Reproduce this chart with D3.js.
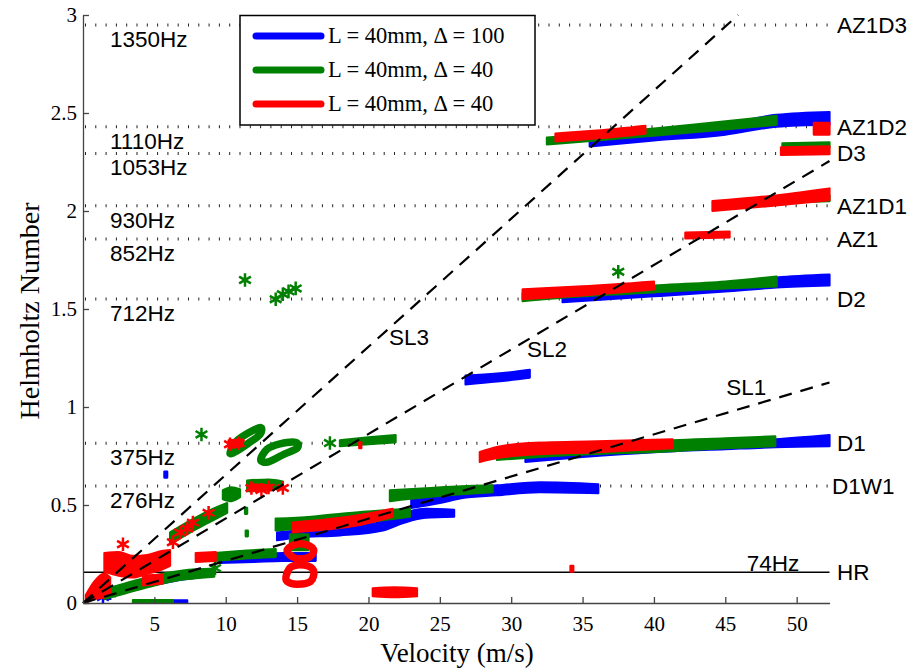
<!DOCTYPE html>
<html><head><meta charset="utf-8">
<script src="https://cdn.jsdelivr.net/npm/d3@7"></script>
<style>body{margin:0;background:#fff}</style>
</head><body>
<svg id="chart" width="912" height="671"></svg>
<script>
// ---------- data ----------
const seriesNames = ["L = 40mm, \u0394 = 100", "L = 40mm, \u0394 = 40", "L = 40mm, \u0394 = 40"];
const seriesColors = ["#0000ff", "#008000", "#ff0000"];
const xTicks = [5,10,15,20,25,30,35,40,45,50];
const yTicks = [0,0.5,1,1.5,2,2.5,3];

// mode levels (Helmholtz number) with names and frequencies
const levelNames = ["AZ1D3","AZ1D2","D3","AZ1D1","AZ1","D2","D1","D1W1"];
const levelFreq  = ["1350Hz","1110Hz","1053Hz","930Hz","852Hz","712Hz","375Hz","276Hz"];
const levelH     = [2.949, 2.430, 2.294, 2.027, 1.857, 1.551, 0.815, 0.597];
const hrName = "HR", hrFreq = "74Hz", hrH = 0.157;

// Strouhal lines: [velocity, Helmholtz] end points
const slNames = ["SL1","SL2","SL3"];
const slEnds  = [[[0,0],[52.3,1.125]], [[0,0],[52.3,2.255]], [[0,0],[45.9,3.0]]];

// bands: each point [velocity, H low, H high]
const blueBands = [
  [[35.5,2.33,2.37],[40,2.36,2.41],[45,2.39,2.445],[48.6,2.43,2.49],[52.3,2.44,2.505]],
  [[33.6,1.535,1.565],[40,1.565,1.6],[45,1.59,1.63],[48.6,1.61,1.66],[52.3,1.62,1.675]],
  [[26.8,1.115,1.16],[29,1.13,1.17],[31.3,1.15,1.19]],
  [[31,0.72,0.755],[35,0.745,0.78],[40,0.77,0.8],[45,0.785,0.82],[48.5,0.795,0.835],[52.3,0.8,0.857]],
  [[23,0.485,0.53],[25,0.51,0.555],[26.5,0.535,0.59],[29,0.55,0.6],[32,0.565,0.615],[36.1,0.56,0.605]],
  [[13.6,0.32,0.36],[15,0.335,0.37],[18,0.345,0.385],[21,0.37,0.415],[22.5,0.41,0.46],[24,0.435,0.48],[26,0.44,0.475]],
  [[9.5,0.205,0.235],[12,0.21,0.245],[14,0.215,0.255],[16.3,0.215,0.255]],
  [[1.7,0.04,0.065],[3.5,0.07,0.1],[5.5,0.1,0.13],[7,0.12,0.15],[8.5,0.135,0.165]],
  [[6.3,0,0.013],[7.3,0,0.013]],
  [[5.7,0.64,0.67],[5.9,0.64,0.67]]
];
const greenBands = [
  [[32.5,2.34,2.375],[36,2.36,2.395],[40,2.385,2.42],[44,2.41,2.45],[48.6,2.44,2.485]],
  [[49,2.32,2.345],[52.3,2.325,2.35]],
  [[48,2.04,2.07],[52.3,2.05,2.08]],
  [[30.8,1.54,1.58],[35,1.565,1.6],[40,1.585,1.62],[45,1.605,1.64],[48.6,1.615,1.665]],
  [[29,0.73,0.76],[33,0.75,0.785],[41.3,0.775,0.83],[45,0.79,0.84],[48.5,0.8,0.85]],
  [[18,0.8,0.83],[20,0.81,0.845],[21.9,0.82,0.857]],
  [[21.5,0.52,0.575],[24,0.54,0.585],[26.5,0.555,0.595],[28.7,0.565,0.6]],
  [[13.5,0.37,0.43],[16,0.385,0.44],[19.6,0.41,0.465],[22.9,0.44,0.48]],
  [[9.2,0.215,0.255],[11,0.225,0.265],[13.5,0.235,0.275]],
  [[1.5,0.02,0.07],[3,0.05,0.1],[5,0.09,0.14],[7,0.12,0.165],[9.2,0.135,0.175]],
  [[3.5,0,0.015],[6.3,0,0.015]],
  [[6.1,0.3,0.36],[7.5,0.36,0.42],[8.8,0.41,0.47],[10.1,0.46,0.51]],
  [[9.8,0.53,0.575],[10.4,0.52,0.59],[11,0.54,0.58]],
  [[11.5,0.57,0.625],[13,0.58,0.63],[14,0.585,0.62]],
  [[14.5,0.27,0.35],[15.8,0.27,0.35]],
  [[11.35,0.455,0.485],[11.5,0.455,0.485]],
  [[11.4,0.34,0.37],[11.55,0.34,0.37]]
];
const redBands = [
  [[33.1,2.355,2.395],[36,2.37,2.41],[39.4,2.395,2.435]],
  [[51.2,2.39,2.45],[52.3,2.39,2.45]],
  [[48.9,2.286,2.325],[52.3,2.29,2.33]],
  [[44.1,2.0,2.05],[48,2.025,2.075],[52.3,2.055,2.115]],
  [[42.2,1.86,1.89],[45.3,1.865,1.895]],
  [[30.8,1.55,1.6],[35,1.57,1.615],[40,1.6,1.64]],
  [[27.8,0.72,0.77],[29,0.74,0.795],[31,0.755,0.815],[36,0.77,0.825],[41.3,0.79,0.835]],
  [[14.7,0.36,0.41],[17,0.375,0.425],[19.5,0.4,0.45],[21.7,0.44,0.48]],
  [[20.3,0.035,0.075],[21.8,0.03,0.08],[23.4,0.035,0.075]],
  [[34.15,0.16,0.19],[34.35,0.16,0.19]],
  [[7.9,0.21,0.255],[9.3,0.215,0.26]],
  [[4.2,0.09,0.14],[5.6,0.1,0.145]],
  [[1.5,0.16,0.255],[2.5,0.14,0.26],[3.5,0.13,0.24],[4.5,0.15,0.245],[5.5,0.17,0.265],[6.1,0.19,0.27]],
  [[0.2,0,0.04],[0.8,0.02,0.11],[1.5,0.03,0.15],[1.9,0.05,0.13]],
  [[11.7,0.57,0.605],[13.2,0.575,0.6]],
  [[10.2,0.79,0.83],[11.2,0.8,0.835]],
  [[19.35,0.79,0.82],[19.5,0.79,0.82]]
];
// ring-shaped clusters: closed lists of [velocity, H]
const greenRings = [
  [[10.3,0.765],[10.75,0.825],[11.7,0.872],[12.45,0.895],[12.4,0.86],[11.6,0.816],[10.75,0.775]],
  [[12.45,0.73],[12.9,0.785],[13.8,0.812],[14.9,0.82],[15.0,0.79],[14.1,0.76],[13.0,0.72]]
];
const redRings = [
  [[14.3,0.265],[14.75,0.296],[15.5,0.3],[16.15,0.274],[15.85,0.234],[14.9,0.228]],
  [[14.25,0.143],[14.6,0.185],[15.5,0.193],[16.15,0.166],[15.95,0.11],[15,0.096],[14.3,0.11]]
];
// isolated points
const greenPoints = [[8.3,0.86],[11.35,1.648],[13.5,1.55],[14,1.575],[14.4,1.59],[14.9,1.605],[37.5,1.69],[17.3,0.816],[9.25,0.178]];
const redPoints = [[6.3,0.31],[6.8,0.36],[7.3,0.38],[7.7,0.41],[8.8,0.46],[2.8,0.30],[11.8,0.587],[12.5,0.577],[13,0.59],[14,0.587],[10.3,0.81],[10.9,0.815]];
const bluePoints = [[1.9,0.05],[1.4,0.03]];

// ---------- drawing ----------
const svg = d3.select("#chart");
svg.append("rect").attr("width",912).attr("height",671).attr("fill","#fff");
const x = d3.scaleLinear().domain([0,52.3]).range([83,829.5]);
const y = d3.scaleLinear().domain([0,3]).range([603,15]);
const sans = "'Liberation Sans', Arial, sans-serif";
const serif = "'Liberation Serif', 'Times New Roman', serif";
const sansSize = 22.5;

// level lines
const lv = svg.append("g");
levelH.forEach((h,i)=>{
  lv.append("line").attr("x1",x(0)+2).attr("x2",x(52.3)).attr("y1",y(h)).attr("y2",y(h))
    .attr("stroke","#222").attr("stroke-width",3).attr("stroke-dasharray","1,9.3");
});
lv.append("line").attr("x1",x(0)).attr("x2",x(52.3)).attr("y1",y(hrH)).attr("y2",y(hrH))
  .attr("stroke","#000").attr("stroke-width",1.4);

// bands
const area = d3.area().x(d=>x(d[0])).y0(d=>y(d[1])).y1(d=>y(d[2])).curve(d3.curveMonotoneX);
const ringLine = d3.line().x(d=>x(d[0])).y(d=>y(d[1])).curve(d3.curveCardinalClosed);
const sym = d3.symbol().type(d3.symbolAsterisk || d3.symbolCross).size(130);
function drawSeries(bands, rings, pts, color){
  const g = svg.append("g");
  g.selectAll("path.band").data(bands).join("path").attr("class","band")
    .attr("d",area).attr("fill",color).attr("stroke",color).attr("stroke-width",2.2).attr("stroke-linejoin","round");
  g.selectAll("path.ring").data(rings).join("path").attr("class","ring")
    .attr("d",ringLine).attr("fill","none").attr("stroke",color).attr("stroke-width",7.5);
  g.selectAll("path.pt").data(pts).join("path").attr("class","pt")
    .attr("transform",d=>`translate(${x(d[0])},${y(d[1])})`).attr("d",sym)
    .attr("fill","none").attr("stroke",color).attr("stroke-width",2.5);
}
drawSeries(blueBands, [], bluePoints, seriesColors[0]);
drawSeries(greenBands, greenRings, greenPoints, seriesColors[1]);
drawSeries(redBands, redRings, redPoints, seriesColors[2]);

// Strouhal lines
slEnds.forEach(e=>{
  svg.append("line").attr("x1",x(e[0][0])).attr("y1",y(e[0][1])).attr("x2",x(e[1][0])).attr("y2",y(e[1][1]))
    .attr("stroke","#000").attr("stroke-width",2.2).attr("stroke-dasharray","13,9");
});
const slLab = [[45.06,1.061],[31.1,1.255],[21.44,1.316]];
slNames.forEach((n,i)=>{
  svg.append("text").attr("x",x(slLab[i][0])).attr("y",y(slLab[i][1])).text(n)
    .attr("font-family",sans).attr("font-size",sansSize);
});

// level labels
levelH.forEach((h,i)=>{
  svg.append("text").attr("x",110).attr("y",y(h)+22).text(levelFreq[i])
    .attr("font-family",sans).attr("font-size",sansSize);
  svg.append("text").attr("x",levelNames[i]==="D1W1"?832:837).attr("y",y(h)).attr("dy","0.36em")
    .text(levelNames[i]).attr("font-family",sans).attr("font-size",sansSize);
});
svg.append("text").attr("x",x(46.5)).attr("y",y(hrH)-1).text(hrFreq).attr("font-family",sans).attr("font-size",sansSize);
svg.append("text").attr("x",837).attr("y",y(hrH)).attr("dy","0.36em").text(hrName).attr("font-family",sans).attr("font-size",sansSize);

// axes
const gx = svg.append("g").attr("transform","translate(0,603)")
  .call(d3.axisBottom(x).tickValues(xTicks).tickSize(-6).tickSizeOuter(0).tickPadding(13).tickFormat(d3.format("d")));
const gy = svg.append("g").attr("transform","translate(83,0)")
  .call(d3.axisLeft(y).tickValues(yTicks).tickSize(-6).tickSizeOuter(0).tickPadding(6).tickFormat(d=>String(d)));
[gx,gy].forEach(g=>{
  g.select(".domain").attr("stroke","#444").attr("stroke-width",1.3);
  g.selectAll(".tick line").attr("stroke","#444").attr("stroke-width",1.3);
  g.selectAll("text").attr("font-family",serif).attr("font-size",21).attr("fill","#000");
});
svg.append("text").attr("x",457).attr("y",662).attr("text-anchor","middle").text("Velocity (m/s)")
  .attr("font-family",serif).attr("font-size",27);
svg.append("text").attr("transform","translate(39,311) rotate(-90)").attr("text-anchor","middle").text("Helmholtz Number")
  .attr("font-family",serif).attr("font-size",28);

// legend
const lg = svg.append("g");
lg.append("rect").attr("x",240).attr("y",15.5).attr("width",295).attr("height",109.5)
  .attr("fill","#fff").attr("stroke","#000").attr("stroke-width",1.5);
seriesNames.forEach((n,i)=>{
  const yy = 36 + i*34;
  lg.append("line").attr("x1",256).attr("x2",321).attr("y1",yy).attr("y2",yy)
    .attr("stroke",seriesColors[i]).attr("stroke-width",7).attr("stroke-linecap","round");
  lg.append("text").attr("x",328).attr("y",yy).attr("dy","0.33em").text(n)
    .attr("font-family",serif).attr("font-size",22.5);
});
</script>
</body></html>
